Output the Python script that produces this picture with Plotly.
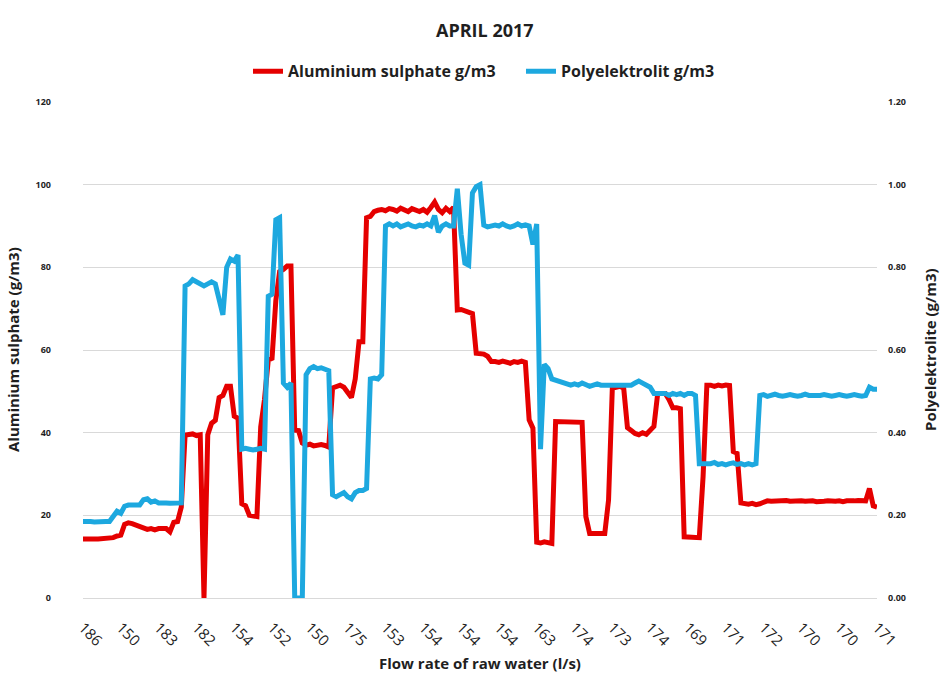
import plotly.graph_objects as go

tick_labels = ["186", "150", "183", "182", "154", "152", "150", "175", "153", "154", "154",
               "154", "163", "174", "173", "174", "169", "171", "172", "170", "170", "171"]

aluminium = [
    14.3, 14.4, 14.2, 14.3, 14.3, 14.4, 14.2, 14.5, 14.6,
    15.0, 15.2,
    17.8, 18.2, 18.0, 17.7, 17.4,
    16.8, 16.6, 16.8, 16.5, 16.8, 16.7, 16.8,
    16.0,
    18.3, 18.5,
    22.0,
    39.4, 39.5, 39.7, 39.3, 39.5,
    0.0,
    39.5,
    42.3, 43.0,
    48.5, 49.0,
    51.2, 51.2,
    44.0, 43.5,
    22.8, 22.3,
    20.0, 19.8, 19.7,
    41.4,
    48.0,
    57.6, 58.0,
    72.0,
    79.0, 79.5,
    80.3, 80.3,
    40.6, 40.5,
    37.5, 37.0, 37.2, 36.8, 37.0, 37.1, 36.9, 36.5,
    50.8, 51.0, 51.5, 51.0,
    49.5, 48.5,
    53.0,
    62.0, 62.0,
    92.0,
    92.3, 93.5, 93.8, 94.0, 93.7, 94.2, 94.0, 93.6, 94.3, 94.0, 93.5, 94.2,
    93.8, 93.5, 94.0, 93.3, 94.5, 95.8, 94.0, 93.2, 94.3, 93.5, 94.5,
    69.7, 69.8, 69.5, 68.9, 68.8,
    59.2, 59.2, 59.0, 58.5,
    57.2, 57.2, 57.0, 57.3, 57.0, 56.8, 57.2, 57.0, 57.3, 57.0,
    43.1, 41.1,
    13.5, 13.3, 13.6, 13.4, 13.2,
    42.7, 42.7, 42.5, 42.6, 42.4, 42.6, 42.5, 42.5,
    19.7,
    15.6, 15.6, 15.5, 15.7, 15.6,
    23.7,
    50.8, 51.0, 51.2, 50.8,
    41.2, 40.5, 39.8, 39.5, 40.0, 39.6, 40.5, 41.5,
    49.5, 49.5, 49.5,
    48.0,
    46.0, 46.0, 45.8,
    14.8, 14.8, 14.5, 14.8, 14.6,
    29.4,
    51.5, 51.5, 51.2, 51.5, 51.3, 51.5, 51.4,
    35.4, 35.0,
    23.0, 22.8, 22.7, 22.9, 22.6, 22.8, 23.3, 23.5, 23.4, 23.5, 23.3, 23.5,
    23.6, 23.4, 23.5, 23.3, 23.5, 23.4, 23.6, 23.5, 23.3, 23.5, 23.4, 23.5,
    23.6, 23.4, 23.5, 23.3, 23.5, 23.4, 23.5, 23.6, 23.4, 23.5,
    26.5,
    22.3, 22.0,
]

polyelektrolit = [
    0.185, 0.186, 0.185, 0.184, 0.185, 0.186, 0.185, 0.185,
    0.200, 0.210, 0.205,
    0.222, 0.225, 0.225, 0.228, 0.225,
    0.238, 0.240,
    0.232, 0.235,
    0.230, 0.231, 0.230, 0.229, 0.230, 0.231, 0.230,
    0.755, 0.760, 0.770, 0.765, 0.760, 0.755, 0.760, 0.765, 0.760,
    0.720, 0.685,
    0.800, 0.820, 0.815, 0.830,
    0.360, 0.362, 0.360, 0.358, 0.360, 0.362, 0.360,
    0.730, 0.735,
    0.915, 0.920,
    0.520, 0.510, 0.520,
    0.0, 0.0, 0.0,
    0.540, 0.555, 0.560, 0.555, 0.557, 0.555, 0.550,
    0.250, 0.245, 0.250, 0.255, 0.245, 0.240, 0.255, 0.260, 0.260, 0.265,
    0.530, 0.532, 0.530, 0.540,
    0.900, 0.905, 0.900, 0.905, 0.898, 0.900, 0.905, 0.900, 0.898, 0.902,
    0.900, 0.905, 0.900, 0.925, 0.885, 0.900, 0.905, 0.900, 0.900,
    0.990, 0.880, 0.810, 0.805, 0.980, 0.995, 1.000, 0.902,
    0.898, 0.900, 0.902, 0.900, 0.905, 0.900, 0.897, 0.900, 0.905, 0.900, 0.903, 0.900,
    0.855, 0.905,
    0.360,
    0.565, 0.555, 0.530, 0.527,
    0.525, 0.522, 0.520, 0.515, 0.518, 0.515, 0.520, 0.515, 0.512, 0.515,
    0.518, 0.515, 0.515, 0.518, 0.515, 0.518, 0.515, 0.515, 0.515, 0.515,
    0.520, 0.525, 0.520, 0.515, 0.510,
    0.495, 0.495, 0.493, 0.495, 0.490, 0.495, 0.492, 0.495, 0.490, 0.495, 0.495,
    0.490,
    0.325, 0.325, 0.322, 0.325, 0.328, 0.323, 0.325, 0.322, 0.325, 0.327,
    0.323, 0.325, 0.322, 0.325, 0.322, 0.325,
    0.490, 0.492, 0.488, 0.490, 0.493, 0.490, 0.488, 0.490, 0.492, 0.490,
    0.488, 0.490, 0.493, 0.490, 0.490, 0.488, 0.490, 0.492, 0.490, 0.488,
    0.490, 0.492, 0.490, 0.488, 0.490, 0.492, 0.490, 0.488, 0.490,
    0.510, 0.505, 0.505,
]

step = 10
tick_positions = [i * step for i in range(len(tick_labels))]

FONT = "Open Sans, sans-serif"
RED = "#E50000"
BLUE = "#1DA8DF"
TXT = "#1f1f1f"

fig = go.Figure()
fig.add_trace(go.Scatter(
    x=list(range(len(aluminium))), y=aluminium, mode="lines",
    name="Aluminium sulphate g/m3", line=dict(color=RED, width=5),
))
fig.add_trace(go.Scatter(
    x=list(range(len(polyelektrolit))), y=polyelektrolit, mode="lines",
    name="Polyelektrolit g/m3", line=dict(color=BLUE, width=5), yaxis="y2",
))

fig.update_layout(
    width=945, height=688,
    margin=dict(l=83, r=68, t=102, b=90),
    paper_bgcolor="white", plot_bgcolor="white",
    font=dict(family=FONT, color=TXT),
    title=dict(text="<b>APRIL 2017</b>", x=0.513, xanchor="center", y=0.955, yanchor="middle",
               font=dict(size=18, color=TXT)),
    legend=dict(orientation="h", x=0.2078, xanchor="left", y=1.062, yanchor="middle",
                font=dict(size=16, color=TXT, weight=700), itemwidth=30,
                entrywidth=228, entrywidthmode="pixels",
                traceorder="normal", bgcolor="rgba(0,0,0,0)"),
    showlegend=True,
    xaxis=dict(range=[0, len(aluminium) - 1], tickmode="array", tickvals=tick_positions,
               ticktext=tick_labels, tickangle=45, showgrid=False, zeroline=False,
               showline=True, linecolor="#d9d9d9", linewidth=1, ticks="",
               ticklabelstandoff=14, automargin=False,
               tickfont=dict(size=15, color=TXT)),
    yaxis=dict(range=[0, 120], dtick=20, showgrid=True, gridcolor="#d9d9d9", gridwidth=1,
               zeroline=False, ticks="", ticklabelstandoff=31, automargin=False,
               tickfont=dict(size=9, color=TXT, weight=700)),
    yaxis2=dict(range=[0, 1.2], dtick=0.2, tickformat=".2f", overlaying="y", side="right",
                showgrid=False, zeroline=False, ticks="", ticklabelstandoff=10,
                automargin=False,
                tickfont=dict(size=9, color=TXT, weight=700)),
    annotations=[
        dict(text="<b>Aluminium sulphate (g/m3)</b>", xref="paper", yref="paper",
             x=0, y=0.5, xanchor="center", yanchor="middle", xshift=-70, textangle=-90,
             showarrow=False, font=dict(size=15, color=TXT)),
        dict(text="<b>Polyelektrolite (g/m3)</b>", xref="paper", yref="paper",
             x=1, y=0.5, xanchor="center", yanchor="middle", xshift=53, textangle=-90,
             showarrow=False, font=dict(size=15, color=TXT)),
        dict(text="<b>Flow rate of raw water (l/s)</b>", xref="paper", yref="paper",
             x=0.5, y=0, xanchor="center", yanchor="middle", yshift=-65, showarrow=False,
             font=dict(size=15, color=TXT)),
    ],
)

fig.write_html("out.html", config={"displayModeBar": False},
               post_script="document.body.style.margin='0';")
